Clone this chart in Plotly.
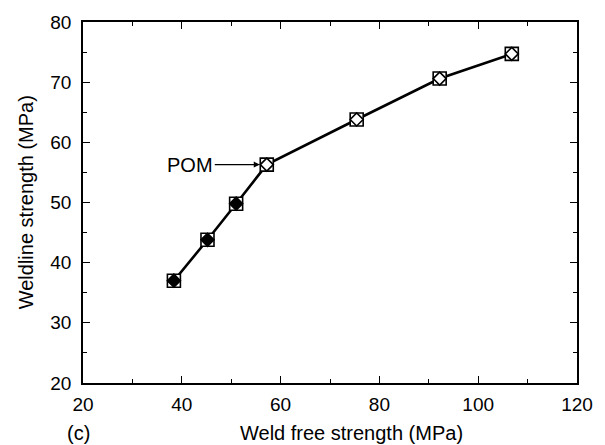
import plotly.graph_objects as go

weld_free = [38.4, 45.2, 51.0, 57.2, 75.4, 92.2, 106.8]
weldline = [37.0, 43.8, 49.8, 56.3, 63.8, 70.6, 74.7]
filled_diamond = [True, True, True, False, False, False, False]

fig = go.Figure()
fig.add_trace(go.Scatter(x=weld_free, y=weldline, mode="lines",
                         line=dict(color="black", width=2.6), showlegend=False))
fig.add_trace(go.Scatter(x=weld_free, y=weldline, mode="markers",
                         marker=dict(symbol="square", size=13, color="white",
                                     line=dict(color="black", width=1.6)),
                         showlegend=False))
fig.add_trace(go.Scatter(x=weld_free, y=weldline, mode="markers",
                         marker=dict(symbol="diamond", size=10,
                                     color=["black" if f else "white" for f in filled_diamond],
                                     line=dict(color="black", width=1.6)),
                         showlegend=False))

tickfont = dict(family="Liberation Sans, Arial, sans-serif", size=19, color="black")
axis_common = dict(showline=True, linecolor="black", linewidth=1.5, mirror="allticks",
                   ticks="inside", ticklen=7, tickwidth=1.3, tickcolor="black",
                   showgrid=False, zeroline=False, tickfont=tickfont)

fig.update_xaxes(range=[20, 120], tick0=20, dtick=20,
                 minor=dict(ticks="inside", ticklen=4, dtick=10, tick0=20, tickcolor="black", showgrid=False),
                 ticklabelstandoff=3, **axis_common)
fig.update_yaxes(range=[20, 80], tick0=20, dtick=10,
                 minor=dict(ticks="inside", ticklen=4, dtick=5, tick0=20, tickcolor="black", showgrid=False),
                 ticklabelstandoff=6, **axis_common)

font = dict(family="Liberation Sans, Arial, sans-serif", size=20, color="black")
fig.update_layout(
    width=605, height=445,
    margin=dict(l=83, r=21, t=21, b=62),
    plot_bgcolor="white", paper_bgcolor="white",
    annotations=[
        dict(text="Weld free strength (MPa)", xref="paper", yref="paper",
             x=(355 - 83) / 501, y=-(433 - 383) / 362, showarrow=False, font=font,
             xanchor="center", yanchor="middle"),
        dict(text="(c)", xref="paper", yref="paper",
             x=(78 - 83) / 501, y=-(433 - 383) / 362, showarrow=False, font=font,
             xanchor="center", yanchor="middle"),
        dict(text="Weldline strength (MPa)", xref="paper", yref="paper",
             x=(25 - 83) / 501, y=0.5, showarrow=False, font=font, textangle=-90,
             xanchor="center", yanchor="middle"),
        dict(text="POM", x=weld_free[3], y=weldline[3], xref="x", yref="y",
             showarrow=True, arrowhead=2, arrowsize=1, arrowwidth=1.2, arrowcolor="black",
             ax=-52, ay=0, standoff=7, font=font, xanchor="right"),
    ],
)

fig.write_html("out.html")
